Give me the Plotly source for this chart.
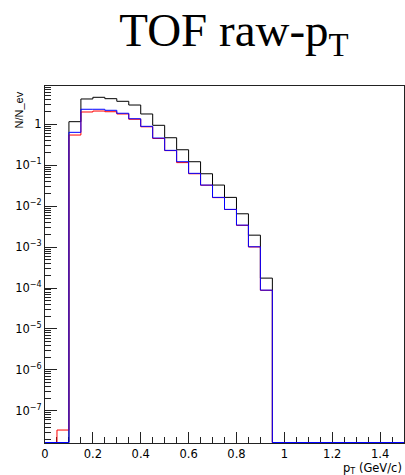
import plotly.graph_objects as go

# ---- data -------------------------------------------------------------
bin_edges = [round(i * 0.05, 2) for i in range(31)]  # 0 .. 1.5, width 0.05

black_vals = [0, 0, 1.16, 4.16, 4.57, 4.23, 3.65, 2.96, 1.79, 0.946,
              0.47, 0.239, 0.122, 0.062, 0.0328, 0.0164, 0.00652, 0.00196, 1.75e-4,
              0, 0, 0, 0, 0, 0, 0, 0, 0, 0, 0]
red_vals = [0, 3.4e-8, 0.547, 2.0, 2.11, 2.03, 1.79, 1.33, 0.87, 0.45,
            0.228, 0.116, 0.062, 0.0325, 0.0162, 0.0083, 0.0034, 0.00101, 8.8e-5,
            0, 0, 0, 0, 0, 0, 0, 0, 0, 0, 0]
blue_vals = [0, 0, 0.637, 2.33, 2.33, 2.20, 1.86, 1.37, 0.893, 0.462,
             0.231, 0.122, 0.0634, 0.0328, 0.0164, 0.00835, 0.00345, 0.00102, 8.9e-5,
             0, 0, 0, 0, 0, 0, 0, 0, 0, 0, 0]

x_tick_vals = [0, 0.2, 0.4, 0.6, 0.8, 1.0, 1.2, 1.4]
x_tick_text = ["0", "0.2", "0.4", "0.6", "0.8", "1", "1.2", "1.4"]
y_tick_exps = [0, -1, -2, -3, -4, -5, -6, -7]
y_tick_text = ["1"] + ["10<sup>\u2212%d</sup>" % (-e) for e in y_tick_exps[1:]]

# ---- axis ranges ------------------------------------------------------
Y_LOG_MIN, Y_LOG_MAX = -7.785, 0.936
X_MIN, X_MAX = 0.0, 1.5
floor_val = 10 ** (Y_LOG_MIN + 0.012)  # empty bins drawn on the frame bottom


def step_xy(vals):
    ys = [v if v > 0 else floor_val for v in vals]
    xs = list(bin_edges)
    ys = ys + [ys[-1]]
    return xs, ys


fig = go.Figure()
for vals, col in [(black_vals, "#000000"), (red_vals, "#ff0000"), (blue_vals, "#0000ff")]:
    xs, ys = step_xy(vals)
    fig.add_trace(go.Scatter(x=xs, y=ys, mode="lines", line=dict(color=col, width=1, shape="hv"),
                             showlegend=False, hoverinfo="skip"))

minor_y = [k * 10 ** n for n in range(-9, 1) for k in range(2, 10)]

TICK_FONT = dict(family="DejaVu Sans, sans-serif", size=11.5, color="black")

fig.update_layout(
    width=405, height=475,
    margin=dict(l=45, r=1, t=86, b=32),
    paper_bgcolor="white", plot_bgcolor="white",
    font=dict(family="DejaVu Sans, sans-serif", size=12, color="black"),
    title=dict(text="TOF raw-p<sub>T</sub>", x=234 / 405, xanchor="center",
               y=1 - 30 / 475, yanchor="middle",
               font=dict(family="Liberation Serif, Times New Roman, serif", size=47, color="black")),
    xaxis=dict(range=[X_MIN, X_MAX], showgrid=False, zeroline=False,
               showline=True, linecolor="#222", linewidth=1, mirror=True,
               ticks="inside", ticklen=11, tickcolor="#222",
               tickvals=x_tick_vals, ticktext=x_tick_text,
               minor=dict(ticks="inside", ticklen=6, tickcolor="#222", dtick=0.05, showgrid=False),
               layer="below traces", tickfont=TICK_FONT),
    yaxis=dict(type="log", range=[Y_LOG_MIN, Y_LOG_MAX], showgrid=False, zeroline=False,
               showline=True, linecolor="#222", linewidth=1, mirror=True,
               ticks="inside", ticklen=12, tickcolor="#222",
               tickvals=[10 ** e for e in y_tick_exps], ticktext=y_tick_text,
               minor=dict(ticks="inside", ticklen=6, tickcolor="#222", tickvals=minor_y, showgrid=False),
               layer="below traces", tickfont=TICK_FONT),
    annotations=[
        dict(text="p<sub>T</sub> (GeV/c)", xref="paper", yref="paper",
             x=1.0, y=-(459 - 442.7) / 356.7, xanchor="right", yanchor="top",
             showarrow=False, font=dict(family="DejaVu Sans, sans-serif", size=11.5)),
        dict(text="N/N_ev", xref="paper", yref="paper", textangle=-90,
             x=(19 - 45) / 359, y=1 - 4 / 356.7, xanchor="center", yanchor="top",
             showarrow=False,
             font=dict(family="Liberation Sans Narrow, Arial Narrow, sans-serif", size=11)),
    ],
)

fig.write_html("out.html")
